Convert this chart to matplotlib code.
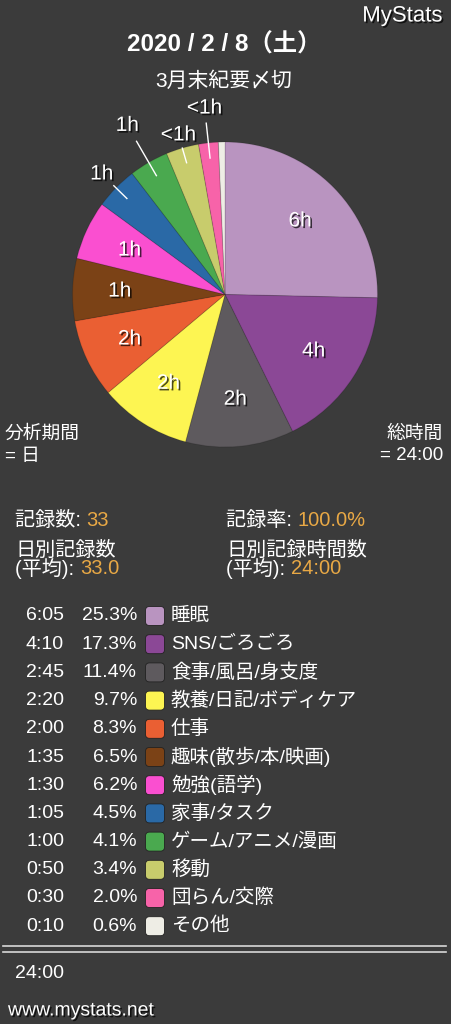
import numpy as np
import matplotlib
matplotlib.use("Agg")
import matplotlib.pyplot as plt
import matplotlib.patheffects as pe
from matplotlib.patches import FancyBboxPatch

plt.rcParams['font.family'] = ['Liberation Sans', 'Noto Sans CJK JP', 'DejaVu Sans']

# ---------------------------- data ----------------------------#
categories = ["睡眠", "SNS/ごろごろ", "食事/風呂/身支度", "教養/日記/ボディケア", "仕事",
              "趣味(散歩/本/映画)", "勉強(語学)", "家事/タスク", "ゲーム/アニメ/漫画",
              "移動", "団らん/交際", "その他"]
minutes = [365, 250, 165, 140, 120, 95, 90, 65, 60, 50, 30, 10]
time_labels = ["6:05", "4:10", "2:45", "2:20", "2:00", "1:35", "1:30", "1:05", "1:00", "0:50", "0:30", "0:10"]
pct_labels = ["25.3%", "17.3%", "11.4%", "9.7%", "8.3%", "6.5%", "6.2%", "4.5%", "4.1%", "3.4%", "2.0%", "0.6%"]
pie_labels = ["6h", "4h", "2h", "2h", "2h", "1h", "1h", "1h", "1h", "<1h", "<1h", ""]
colors = ["#b994c0", "#8b4896", "#5e5a5e", "#fdf552", "#ea5f33", "#7b4216",
          "#fa4fd0", "#2a69a6", "#4aa94f", "#c8cc6c", "#f763a9", "#eeede5"]

# label radius (in pie radii) and leader line end, None = inside label
label_r = [0.69] * 7 + [1.13, 1.28, 1.09, 1.23, None]
line_r = [None] * 7 + [1.02, 1.16, 1.0, 1.13, None]

bg = "#3b3b3b"
orange = "#e8a845"
W, H = 451, 1024
fs = 14.5

fig = plt.figure(figsize=(W / 100, H / 100), dpi=100, facecolor=bg)

# text layer in pixel coordinates
ax = fig.add_axes([0, 0, 1, 1])
ax.set_xlim(0, W)
ax.set_ylim(H, 0)
ax.axis("off")

shadow = [pe.SimplePatchShadow(offset=(1.2, -1.2), shadow_rgbFace="black", alpha=0.7), pe.Normal()]

#---------------------------- pie ----------------------------#
cx, cy, R = 225, 294.5, 152.5
k = 1.35
side = 2 * k * R
axp = fig.add_axes([(cx - side / 2) / W, (H - cy - side / 2) / H, side / W, side / H])
wedges, _ = axp.pie(minutes, colors=colors, startangle=90, counterclock=False, radius=1,
                    wedgeprops=dict(edgecolor=(0, 0, 0, 0.12), linewidth=0.8))
axp.set_xlim(-k, k)
axp.set_ylim(-k, k)
axp.set_aspect("equal")
axp.axis("off")

for w, lab, lr, ln in zip(wedges, pie_labels, label_r, line_r):
    if not lab:
        continue
    ang = np.deg2rad((w.theta1 + w.theta2) / 2)
    dx, dy = np.cos(ang), np.sin(ang)
    if ln is not None:
        axp.plot([0.9 * dx, ln * dx], [0.9 * dy, ln * dy], color="white", lw=1.0)
    axp.text(lr * dx, lr * dy, lab, ha="center", va="center", color="white",
             fontsize=15, path_effects=shadow)

#---------------------------- header ----------------------------#
ax.text(443, 16, "MyStats", ha="right", va="center", color="white", fontsize=16, path_effects=shadow)
ax.text(224, 45, "2020 / 2 / 8（土）", ha="center", va="center", color="white",
        fontsize=17.5, fontweight="bold")
ax.text(224, 81, "3月末紀要〆切", ha="center", va="center", color="white", fontsize=15)

ax.text(5, 434, "分析期間", ha="left", va="center", color="white", fontsize=13.5)
ax.text(5, 456, "= 日", ha="left", va="center", color="white", fontsize=13.5)
ax.text(443, 434, "総時間", ha="right", va="center", color="white", fontsize=13.5)
ax.text(443, 456, "= 24:00", ha="right", va="center", color="white", fontsize=13.5)

#---------------------------- stats ----------------------------#
def stat(x, y, key, val):
    t = ax.text(x, y, key, ha="left", va="center", color="white", fontsize=fs)
    fig.canvas.draw()
    bb = t.get_window_extent()
    ax.text(x + bb.width, y, val, ha="left", va="center", color=orange, fontsize=fs)

stat(15, 520, "記録数: ", "33")
stat(226, 520, "記録率: ", "100.0%")
ax.text(15, 550, "日別記録数", ha="left", va="center", color="white", fontsize=fs)
stat(15, 569, "(平均): ", "33.0")
ax.text(226, 550, "日別記録時間数", ha="left", va="center", color="white", fontsize=fs)
stat(226, 569, "(平均): ", "24:00")

#---------------------------- legend table ----------------------------#
y0, dy = 616, 28.2
lfs = 14
for i, (cat, tl, pl, c) in enumerate(zip(categories, time_labels, pct_labels, colors)):
    y = y0 + i * dy
    ax.text(64, y, tl, ha="right", va="center", color="white", fontsize=lfs)
    ax.text(137, y, pl, ha="right", va="center", color="white", fontsize=lfs)
    ax.add_patch(FancyBboxPatch((145.5, y - 9.5), 19, 19, boxstyle="round,pad=0,rounding_size=4",
                                facecolor=c, edgecolor="#222222", lw=0.6))
    ax.text(171, y, cat, ha="left", va="center", color="white", fontsize=lfs)

ax.plot([3, 446], [945.5, 945.5], color="#d8d8d8", lw=1.2)
ax.plot([3, 446], [951.5, 951.5], color="#d8d8d8", lw=1.2)

ax.text(15, 973, "24:00", ha="left", va="center", color="white", fontsize=lfs)
ax.text(8, 1011, "www.mystats.net", ha="left", va="center", color="white", fontsize=lfs,
        path_effects=shadow)

plt.savefig("out.png", dpi=100, facecolor=bg)
